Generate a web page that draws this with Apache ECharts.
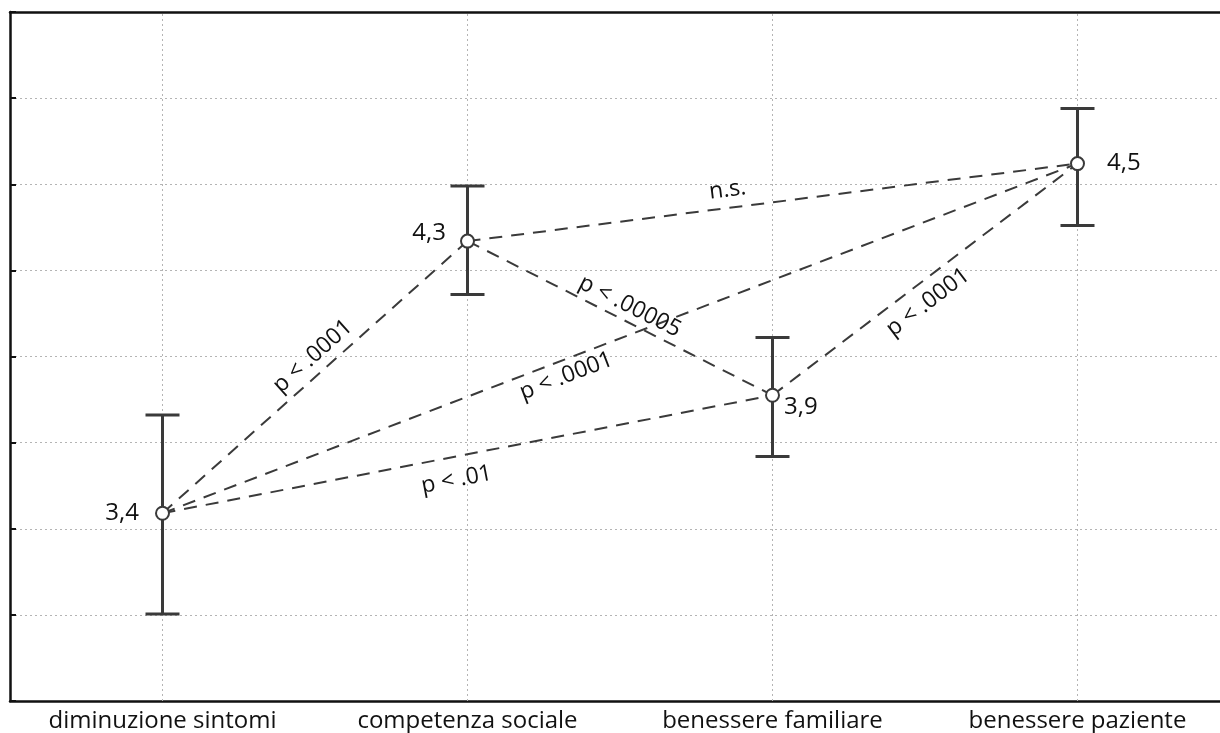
<!DOCTYPE html>
<html>
<head>
<meta charset="utf-8">
<script src="https://cdn.jsdelivr.net/npm/echarts@6/dist/echarts.min.js"></script>
<style>
  html, body { margin: 0; padding: 0; background: #fff; }
  #chart { width: 1220px; height: 733px; }
</style>
</head>
<body>
<div id="chart"></div>
<script>
// data (y in mean-score units, axis has no labels)
const categories = ['diminuzione sintomi', 'competenza sociale', 'benessere familiare', 'benessere paziente']
const means = [3.545, 4.335, 3.8875, 4.56]
const lowerBounds = [3.2525, 4.18, 3.71, 4.38]
const upperBounds = [3.83, 4.495, 4.055, 4.72]
const meanLabels = ['3,4', '4,3', '3,9', '4,5']
const comparisons = [[0, 1], [0, 2], [0, 3], [1, 2], [1, 3], [2, 3]]
const pLabels = ['p < .0001', 'p < .01', 'p < .0001', 'p < .00005', 'n.s.', 'p < .0001']
const yMin = 3
const yMax = 5
const yStep = 0.25

// where each p label sits: fraction along the line, offset perpendicular (px, + = above)
const pLabelPlace = [[0.53, 17], [0.475, -23], [0.435, -16], [0.51, 15], [0.43, 18], [0.47, -20]]
// mean label placement
const meanLabelPlace = [
  { position: 'left', distance: 16, offset: [0, 0] },
  { position: 'left', distance: 14, offset: [0, -8] },
  { position: 'right', distance: 4, offset: [0, 12] },
  { position: 'right', distance: 22, offset: [0, 0] }
]

const ink = '#3a3a3a'
const gridColor = '#b4b4b4'
const font = '"Open Sans", "Noto Sans", sans-serif'

const chart = echarts.init(document.getElementById('chart'))

const option = {
  animation: false,
  backgroundColor: '#fff',
  // plot runs past the right edge of the picture
  grid: { left: 10, top: 12, bottom: 32, width: 1220, outerBoundsMode: 'none', containLabel: false },
  xAxis: [
    {
      type: 'category',
      data: categories,
      position: 'bottom',
      axisLine: { lineStyle: { color: '#111', width: 2.5 } },
      axisTick: { inside: true, alignWithLabel: true, length: 5, lineStyle: { color: '#111', width: 2 } },
      axisLabel: { color: '#111', fontSize: 24, fontFamily: font, margin: 8 },
      splitLine: { show: false }
    },
    {
      type: 'category',
      data: categories,
      position: 'top',
      axisLine: { lineStyle: { color: '#111', width: 2.5 } },
      axisTick: { inside: true, alignWithLabel: true, length: 5, lineStyle: { color: '#111', width: 2 } },
      axisLabel: { show: false },
      splitLine: { show: false }
    }
  ],
  yAxis: {
    type: 'value',
    min: yMin,
    max: yMax,
    interval: yStep,
    axisLine: { show: true, lineStyle: { color: '#111', width: 2.5 } },
    axisTick: { show: true, inside: true, length: 6, lineStyle: { color: '#111', width: 2 } },
    axisLabel: { show: false },
    splitLine: { show: true, lineStyle: { color: gridColor, width: 1, type: [2, 3] } }
  },
  series: [
    {
      // vertical grid through the categories
      type: 'scatter',
      data: means.map((v, i) => [i, v]),
      symbolSize: 0,
      silent: true,
      z: 1,
      markLine: {
        silent: true,
        z: 1,
        symbol: 'none',
        animation: false,
        label: { show: false },
        lineStyle: { color: gridColor, width: 1, type: [2, 3] },
        data: categories.map((c, i) => ({ xAxis: i }))
      }
    },
    {
      // dashed comparison lines
      type: 'scatter',
      data: means.map((v, i) => [i, v]),
      symbolSize: 0,
      silent: true,
      z: 2,
      markLine: {
        silent: true,
        z: 2,
        symbol: 'none',
        animation: false,
        label: { show: false },
        lineStyle: { color: ink, width: 2, type: [13, 9] },
        data: comparisons.map(([a, b]) => [
          { coord: [a, means[a]] },
          { coord: [b, means[b]] }
        ])
      }
    },
    {
      type: 'custom',
      z: 3,
      data: categories.map((c, i) => [i, lowerBounds[i], upperBounds[i]]),
      renderItem: (params, api) => {
        const x = api.value(0)
        const lo = api.coord([x, api.value(1)])
        const hi = api.coord([x, api.value(2)])
        const half = 17
        const style = { stroke: ink, lineWidth: 3 }
        return {
          type: 'group',
          children: [
            { type: 'line', shape: { x1: lo[0], y1: lo[1], x2: hi[0], y2: hi[1] }, style },
            { type: 'line', shape: { x1: lo[0] - half, y1: lo[1], x2: lo[0] + half, y2: lo[1] }, style },
            { type: 'line', shape: { x1: hi[0] - half, y1: hi[1], x2: hi[0] + half, y2: hi[1] }, style }
          ]
        }
      }
    },
    {
      type: 'scatter',
      z: 4,
      symbol: 'circle',
      symbolSize: 13,
      itemStyle: { color: '#fff', borderColor: ink, borderWidth: 2, opacity: 1 },
      data: means.map((v, i) => ({
        value: [i, v],
        label: {
          show: true,
          formatter: meanLabels[i],
          color: '#111',
          fontSize: 24,
          fontFamily: font,
          ...meanLabelPlace[i]
        }
      }))
    }
  ]
}

chart.setOption(option)

// p-value labels laid along each comparison line
function placePLabels() {
  const texts = comparisons.map(([a, b], k) => {
    const p0 = chart.convertToPixel({ seriesIndex: 3 }, [a, means[a]])
    const p1 = chart.convertToPixel({ seriesIndex: 3 }, [b, means[b]])
    const dx = p1[0] - p0[0]
    const dy = p1[1] - p0[1]
    const len = Math.hypot(dx, dy)
    const ux = dx / len
    const uy = dy / len
    const [t, off] = pLabelPlace[k]
    return {
      type: 'text',
      x: p0[0] + dx * t + uy * off,
      y: p0[1] + dy * t - ux * off,
      rotation: -Math.atan2(dy, dx),
      z: 5,
      style: {
        text: pLabels[k],
        fill: '#111',
        font: '23px ' + font,
        align: 'center',
        verticalAlign: 'middle'
      }
    }
  })
  chart.setOption({ graphic: texts })
}

placePLabels()
</script>
</body>
</html>
